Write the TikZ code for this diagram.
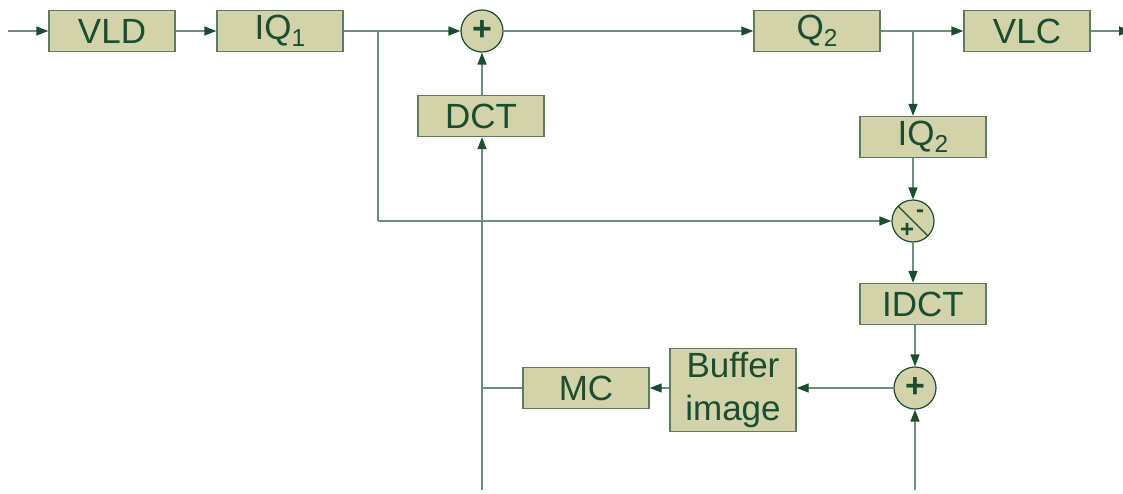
\documentclass[tikz,border=0pt]{standalone}
\usepackage{fontspec}
\setmainfont{Liberation Sans}
\usetikzlibrary{positioning,arrows.meta,calc}
\definecolor{boxfill}{HTML}{D3D3AB}
\definecolor{boxline}{HTML}{5E7D5E}
\definecolor{ink}{HTML}{1B4D2E}
\definecolor{wire}{HTML}{6E8E7E}
\newcommand{\lowsub}[1]{\raisebox{-.35ex}{\scalebox{.7}{#1}}}

\begin{document}
\begin{tikzpicture}[x=1pt, y=-1pt,
    blockNode/.style={rectangle, draw=boxline, fill=boxfill, line width=1.4pt, minimum width=126pt, minimum height=41pt, inner sep=0pt, align=center, text=ink, font=\fontsize{35}{43}\selectfont},
    sumNode/.style={circle, draw=ink, fill=boxfill, line width=1.2pt, minimum size=42pt, inner sep=0pt, text=ink, font=\fontsize{34}{34}\selectfont\bfseries},
    wireLine/.style={draw=wire, line width=1.4pt},
    wireArrow/.style={wireLine, -{Triangle[length=12pt, width=9pt, color=ink]}}
]
    \useasboundingbox (0,0) rectangle (1123,493);

    \node[blockNode] (vld) at (112, 31) {VLD};
    \node[blockNode] (iqa) at (280, 31) {IQ\lowsub{1}};
    \node[sumNode] (sumtop) at (482, 31) {+};
    \node[blockNode] (dct) at (481, 116) {DCT};
    \node[blockNode] (qb) at (817, 31) {Q\lowsub{2}};
    \node[blockNode] (vlc) at (1027, 31) {VLC};
    \node[blockNode] (iqb) at (923, 137) {IQ\lowsub{2}};
    \node[sumNode, path picture={
        \draw[ink, line width=1.2pt] (path picture bounding box.north west) -- (path picture bounding box.south east);
        \node[text=ink, font=\fontsize{24}{24}\selectfont\bfseries] at ($(path picture bounding box.center)+(7,-7)$) {-};
        \node[text=ink, font=\fontsize{24}{24}\selectfont\bfseries] at ($(path picture bounding box.center)+(-6,9)$) {+};
    }] (diff) at (913, 221) {};
    \node[blockNode] (idct) at (923, 304) {IDCT};
    \node[sumNode] (sumbot) at (915, 388) {+};
    \node[blockNode, minimum height=83pt] (buf) at (733, 390) {Buffer\\image};
    \node[blockNode] (mc) at (586, 388) {MC};

    \coordinate (in) at (8, 31);
    \coordinate (out) at (1131, 31);
    \coordinate (split) at (378, 31);
    \coordinate (splitlow) at (378, 221);
    \coordinate (tap) at (913, 31);
    \coordinate (dctfoot) at (482, 490);
    \coordinate (mcjoin) at (482, 388);
    \coordinate (bufin) at (915, 490);

    \draw[wireArrow] (in) -- (vld);
    \draw[wireArrow] (vld) -- (iqa);
    \draw[wireArrow] (iqa) -- (sumtop);
    \draw[wireArrow] (dct.north -| sumtop) -- (sumtop);
    \draw[wireArrow] (sumtop) -- (qb);
    \draw[wireArrow] (qb) -- (vlc);
    \draw[wireArrow] (vlc) -- (out);
    \draw[wireArrow] (tap) -- (tap |- iqb.north);
    \draw[wireArrow] (iqb.south -| diff) -- (diff);
    \draw[wireLine] (split) -- (splitlow);
    \draw[wireArrow] (splitlow) -- (diff);
    \draw[wireArrow] (diff) -- (diff |- idct.north);
    \draw[wireArrow] (idct.south -| sumbot) -- (sumbot);
    \draw[wireArrow] (bufin) -- (sumbot);
    \draw[wireArrow] (sumbot) -- (sumbot -| buf.east);
    \draw[wireArrow] (buf.west |- mc) -- (mc);
    \draw[wireLine] (mc) -- (mcjoin);
    \draw[wireArrow] (dctfoot) -- (dctfoot |- dct.south);
\end{tikzpicture}
\end{document}
